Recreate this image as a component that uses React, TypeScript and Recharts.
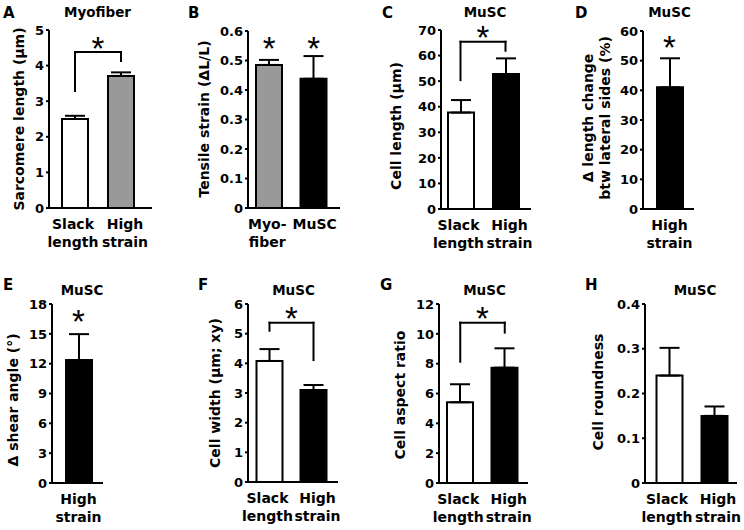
import React from "react";
import {
  BarChart,
  Bar,
  Cell,
  XAxis,
  YAxis,
  ErrorBar,
  ReferenceLine,
  ReferenceDot,
  Label,
} from "recharts";

// Figure panels A–H: bar means with one-sided SEM bars.
const FONT = '"DejaVu Sans", Verdana, sans-serif';
const STAR_FONT = '"Liberation Sans", Arial, sans-serif';
const WHITE = "#ffffff";
const GRAY = "#999999";
const BLACK = "#000000";

// A — Myofiber sarcomere length
const aCategories = ["Slack length", "High strain"];
const aMeans = [2.5, 3.71];
const aErrors = [0.09, 0.1];
const aFills = [WHITE, GRAY];
const aTicks = [0, 1, 2, 3, 4, 5];
const aBracket = [3.29, 4.38, 4.13];

// B — tensile strain
const bCategories = ["Myo-fiber", "MuSC"];
const bMeans = [0.485, 0.438];
const bErrors = [0.017, 0.077];
const bFills = [GRAY, BLACK];
const bTicks = [0, 0.1, 0.2, 0.3, 0.4, 0.5, 0.6];
const bStars = [0.558, 0.558];

// C — MuSC cell length
const cCategories = ["Slack length", "High strain"];
const cMeans = [37.7, 52.8];
const cErrors = [4.9, 6.1];
const cFills = [WHITE, BLACK];
const cTicks = [0, 10, 20, 30, 40, 50, 60, 70];
const cBracket = [50.4, 65.4, 61.9];

// D — length change between lateral sides
const dCategories = ["High strain"];
const dMeans = [41.0];
const dErrors = [9.8];
const dFills = [BLACK];
const dTicks = [0, 10, 20, 30, 40, 50, 60];
const dStars = [56.1];

// E — shear angle
const eCategories = ["High strain"];
const eMeans = [12.37];
const eErrors = [2.6];
const eFills = [BLACK];
const eTicks = [0, 3, 6, 9, 12, 15, 18];
const eStars = [16.7];

// F — cell width
const fCategories = ["Slack length", "High strain"];
const fMeans = [4.08, 3.1];
const fErrors = [0.4, 0.17];
const fFills = [WHITE, BLACK];
const fTicks = [0, 1, 2, 3, 4, 5, 6];
const fBracket = [5.1, 5.37, 4.11];

// G — cell aspect ratio
const gCategories = ["Slack length", "High strain"];
const gMeans = [5.41, 7.73];
const gErrors = [1.21, 1.3];
const gFills = [WHITE, BLACK];
const gTicks = [0, 2, 4, 6, 8, 10, 12];
const gBracket = [8.13, 10.75, 10.08];

// H — cell roundness
const hCategories = ["Slack length", "High strain"];
const hMeans = [0.24, 0.15];
const hErrors = [0.062, 0.021];
const hFills = [WHITE, BLACK];
const hTicks = [0, 0.1, 0.2, 0.3, 0.4];

const splitLabel = (s: string) => s.split(/ |(?<=-)/);

// category labels sit a little off the bar centres in the original
function CatTick({ x, y, payload, index, shifts }: any) {
  const lines = splitLabel(String(payload.value));
  const cx = x + ((shifts && shifts[index]) || 0);
  return (
    <text
      x={cx}
      y={y}
      textAnchor="middle"
      fontFamily={FONT}
      fontWeight="bold"
      fontSize={14}
      fill={BLACK}
    >
      {lines.map((l, i) => (
        <tspan key={i} x={cx} dy={i === 0 ? 21 : 18}>
          {l}
        </tspan>
      ))}
    </text>
  );
}

function NumTick({ x, y, payload }: any) {
  return (
    <text
      x={x}
      y={y}
      dy="0.36em"
      textAnchor="end"
      fontFamily={FONT}
      fontWeight="bold"
      fontSize={13}
      fill={BLACK}
    >
      {payload.value}
    </text>
  );
}

function Star({ x, y }: { x: number; y: number }) {
  return (
    <text
      x={x}
      y={y}
      dy="0.5em"
      textAnchor="middle"
      fontFamily={STAR_FONT}
      fontSize={33}
      fill={BLACK}
    >
      *
    </text>
  );
}

type PanelProps = {
  left: number;
  top: number;
  height: number;
  plotTop: number;
  plotBottom: number;
  axisX: number;
  xEnd: number;
  padL: number;
  padR: number;
  categories: string[];
  means: number[];
  errors: number[];
  fills: string[];
  ticks: number[];
  yLabel: string[];
  yLabelX: number;
  yLabelY: number;
  labelShifts?: number[];
  bracket?: number[];
  stars?: number[];
};

function Panel(p: PanelProps) {
  const data = p.categories.map((c, i) => ({
    cat: c,
    mean: p.means[i],
    err: [0, p.errors[i]],
  }));
  const width = p.xEnd - p.left + 4;
  const yMax = p.ticks[p.ticks.length - 1];
  const lx = p.yLabelX - p.left;
  const ly = p.yLabelY - p.top;
  const axisStyle = { stroke: BLACK, strokeWidth: 2 };
  const c0 = p.categories[0];
  const c1 = p.categories[1];

  return (
    <div style={{ position: "absolute", left: p.left, top: p.top }}>
      <BarChart
        width={width}
        height={p.height}
        data={data}
        margin={{ top: p.plotTop - p.top, right: 4, bottom: 0, left: 0 }}
      >
        <XAxis
          dataKey="cat"
          type="category"
          interval={0}
          height={p.top + p.height - p.plotBottom}
          padding={{ left: p.padL, right: p.padR }}
          axisLine={axisStyle}
          tickLine={false}
          tickSize={0}
          tickMargin={0}
          tick={<CatTick shifts={p.labelShifts} />}
        />
        <YAxis
          type="number"
          width={p.axisX - p.left}
          domain={[0, yMax]}
          ticks={p.ticks}
          allowDataOverflow
          axisLine={axisStyle}
          tickLine={axisStyle}
          tickSize={3}
          tickMargin={2}
          tick={<NumTick />}
        >
          <Label
            content={() => (
              <text
                transform={`rotate(-90, ${lx}, ${ly})`}
                x={lx}
                y={ly}
                textAnchor="middle"
                dominantBaseline="central"
                fontFamily={FONT}
                fontWeight="bold"
                fontSize={14}
                fill={BLACK}
              >
                {p.yLabel.map((l, i) => (
                  <tspan
                    key={i}
                    x={lx}
                    dy={i === 0 ? -((p.yLabel.length - 1) * 17) / 2 : 17}
                  >
                    {l}
                  </tspan>
                ))}
              </text>
            )}
          />
        </YAxis>
        <Bar
          dataKey="mean"
          barSize={26}
          stroke={BLACK}
          strokeWidth={2}
          isAnimationActive={false}
        >
          {data.map((d, i) => (
            <Cell key={d.cat} fill={p.fills[i]} />
          ))}
          <ErrorBar
            dataKey="err"
            direction="y"
            width={10}
            stroke={BLACK}
            strokeWidth={2}
            isAnimationActive={false}
          />
        </Bar>
        {p.bracket && (
          <ReferenceLine
            segment={[
              { x: c0, y: p.bracket[0] },
              { x: c0, y: p.bracket[1] },
            ]}
            stroke={BLACK}
            strokeWidth={2}
            strokeLinecap="square"
            ifOverflow="visible"
          />
        )}
        {p.bracket && (
          <ReferenceLine
            segment={[
              { x: c0, y: p.bracket[1] },
              { x: c1, y: p.bracket[1] },
            ]}
            stroke={BLACK}
            strokeWidth={2}
            strokeLinecap="square"
            ifOverflow="visible"
          >
            <Label
              content={({ viewBox }: any) => (
                <Star x={viewBox.x + viewBox.width / 2} y={viewBox.y - 9} />
              )}
            />
          </ReferenceLine>
        )}
        {p.bracket && (
          <ReferenceLine
            segment={[
              { x: c1, y: p.bracket[1] },
              { x: c1, y: p.bracket[2] },
            ]}
            stroke={BLACK}
            strokeWidth={2}
            strokeLinecap="square"
            ifOverflow="visible"
          />
        )}
        {p.stars &&
          p.stars.map((s, i) => (
            <ReferenceDot
              key={i}
              x={p.categories[i]}
              y={s}
              r={0}
              ifOverflow="visible"
              shape={(sp: any) => <Star x={sp.cx} y={sp.cy} />}
            />
          ))}
      </BarChart>
    </div>
  );
}

const letters = [
  { t: "A", x: 3, y: 17.5 },
  { t: "B", x: 188, y: 17.5 },
  { t: "C", x: 382, y: 17.5 },
  { t: "D", x: 575, y: 17.5 },
  { t: "E", x: 3, y: 290 },
  { t: "F", x: 198, y: 290 },
  { t: "G", x: 380, y: 290 },
  { t: "H", x: 585, y: 290 },
];

const titles = [
  { t: "Myofiber", x: 97.5, y: 17 },
  { t: "MuSC", x: 485, y: 17 },
  { t: "MuSC", x: 669.5, y: 17 },
  { t: "MuSC", x: 82, y: 295 },
  { t: "MuSC", x: 293.5, y: 295 },
  { t: "MuSC", x: 484.5, y: 295 },
  { t: "MuSC", x: 695, y: 295 },
];

const pairShifts = [-2, 4];

export default function App() {
  const row1 = { top: 0, height: 260 };
  const row2 = { top: 260, height: 270 };
  return (
    <div
      style={{
        position: "absolute",
        left: 0,
        top: 0,
        width: 744,
        height: 530,
        background: WHITE,
        overflow: "hidden",
      }}
    >
      <Panel
        {...row1}
        left={0}
        plotTop={30}
        plotBottom={208}
        axisX={49}
        xEnd={152}
        padL={3}
        padR={8}
        categories={aCategories}
        means={aMeans}
        errors={aErrors}
        fills={aFills}
        ticks={aTicks}
        yLabel={["Sarcomere length (\u03bcm)"]}
        yLabelX={19}
        yLabelY={119}
        labelShifts={pairShifts}
        bracket={aBracket}
      />
      <Panel
        {...row1}
        left={186}
        plotTop={31}
        plotBottom={208}
        axisX={248}
        xEnd={340}
        padL={-1}
        padR={4}
        categories={bCategories}
        means={bMeans}
        errors={bErrors}
        fills={bFills}
        ticks={bTicks}
        yLabel={["Tensile strain (\u0394L/L)"]}
        yLabelX={203.5}
        yLabelY={119}
        labelShifts={[-2, 1]}
        stars={bStars}
      />
      <Panel
        {...row1}
        left={372}
        plotTop={30}
        plotBottom={209}
        axisX={441}
        xEnd={531}
        padL={-3}
        padR={3}
        categories={cCategories}
        means={cMeans}
        errors={cErrors}
        fills={cFills}
        ticks={cTicks}
        yLabel={["Cell length (\u03bcm)"]}
        yLabelX={395.5}
        yLabelY={126}
        labelShifts={pairShifts}
        bracket={cBracket}
      />
      <Panel
        {...row1}
        left={558}
        plotTop={31}
        plotBottom={209}
        axisX={643}
        xEnd={694}
        padL={2}
        padR={0}
        categories={dCategories}
        means={dMeans}
        errors={dErrors}
        fills={dFills}
        ticks={dTicks}
        yLabel={["\u0394 length change", "btw lateral sides (%)"]}
        yLabelX={596}
        yLabelY={118}
        stars={dStars}
      />
      <Panel
        {...row2}
        left={0}
        plotTop={304}
        plotBottom={483}
        axisX={52}
        xEnd={103}
        padL={2}
        padR={0}
        categories={eCategories}
        means={eMeans}
        errors={eErrors}
        fills={eFills}
        ticks={eTicks}
        yLabel={["\u0394 shear angle (\u00b0)"]}
        yLabelX={13}
        yLabelY={400}
        stars={eStars}
      />
      <Panel
        {...row2}
        left={186}
        plotTop={304}
        plotBottom={482}
        axisX={248}
        xEnd={338}
        padL={-0.5}
        padR={2.5}
        categories={fCategories}
        means={fMeans}
        errors={fErrors}
        fills={fFills}
        ticks={fTicks}
        yLabel={["Cell width (\u03bcm; xy)"]}
        yLabelX={214.5}
        yLabelY={393}
        labelShifts={pairShifts}
        bracket={fBracket}
      />
      <Panel
        {...row2}
        left={372}
        plotTop={304}
        plotBottom={483}
        axisX={439}
        xEnd={528}
        padL={-1}
        padR={1}
        categories={gCategories}
        means={gMeans}
        errors={gErrors}
        fills={gFills}
        ticks={gTicks}
        yLabel={["Cell aspect ratio"]}
        yLabelX={399.5}
        yLabelY={395}
        labelShifts={pairShifts}
        bracket={gBracket}
      />
      <Panel
        {...row2}
        left={558}
        plotTop={304}
        plotBottom={483}
        axisX={645}
        xEnd={737}
        padL={1.5}
        padR={0.5}
        categories={hCategories}
        means={hMeans}
        errors={hErrors}
        fills={hFills}
        ticks={hTicks}
        yLabel={["Cell roundness"]}
        yLabelX={597.5}
        yLabelY={392}
        labelShifts={pairShifts}
      />
      <svg
        width={744}
        height={530}
        style={{ position: "absolute", left: 0, top: 0, pointerEvents: "none" }}
      >
        {letters.map((l) => (
          <text
            key={l.t}
            x={l.x}
            y={l.y}
            fontFamily={FONT}
            fontWeight="bold"
            fontSize={15}
            fill={BLACK}
          >
            {l.t}
          </text>
        ))}
        {titles.map((t, i) => (
          <text
            key={i}
            x={t.x}
            y={t.y}
            textAnchor="middle"
            fontFamily={FONT}
            fontWeight="bold"
            fontSize={13.5}
            fill={BLACK}
          >
            {t.t}
          </text>
        ))}
      </svg>
    </div>
  );
}
